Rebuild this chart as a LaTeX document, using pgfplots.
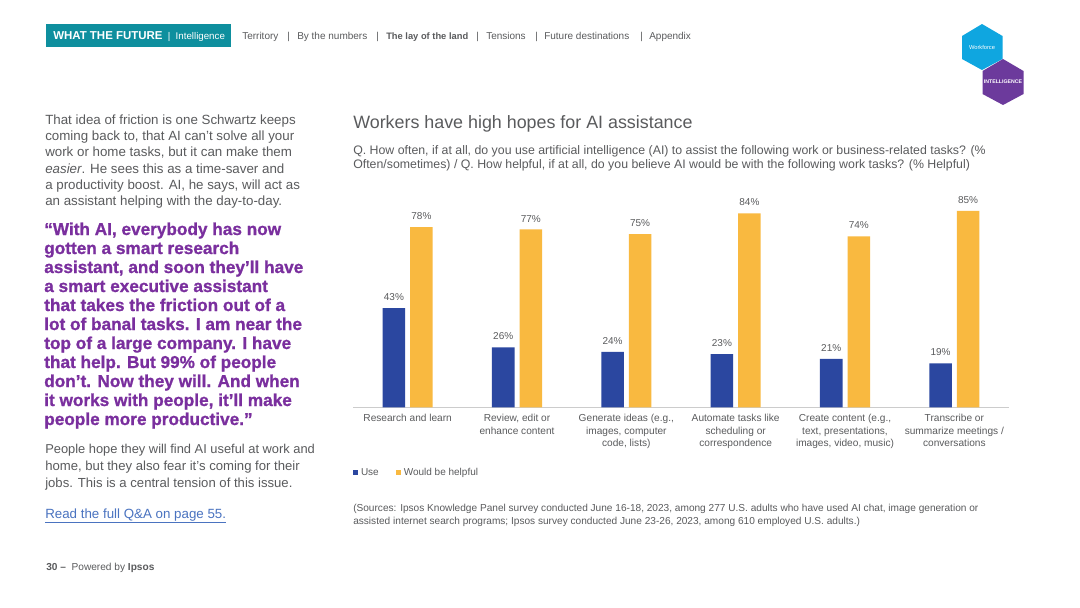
\documentclass[border=0pt]{standalone}
\usepackage{fontspec}
\setmainfont{Liberation Sans}
\usepackage{pgfplots}
\usepackage{pgfplotstable}
\pgfplotsset{compat=1.18}

\definecolor{useblue}{HTML}{2B47A0}
\definecolor{helporange}{HTML}{F9B940}
\definecolor{teal}{HTML}{0E8F9E}
\definecolor{hexblue}{HTML}{0FA6E0}
\definecolor{hexpurple}{HTML}{6C3A9C}
\definecolor{quote}{HTML}{7A2F9E}
\definecolor{txt}{HTML}{5A5B5D}
\definecolor{linkblue}{HTML}{4A73C0}

\pgfplotstableread{
pos use helpful
0 43 78
1 26 77
2 24 75
3 23 84
4 21 74
5 19 85
}\hopes

% one line of text at pixel position: size, x, baseline y, text
\newcommand\tl[4]{\node[anchor=base west,inner sep=0pt,text=txt,font=\fontsize{#1}{#1}\selectfont] at (#2,#3) {#4};}
\newcommand\ql[2]{\node[anchor=base west,inner sep=0pt,text=quote,font=\fontsize{12.9}{13}\selectfont\bfseries\addfontfeature{FakeBold=1}] at (44,#1) {#2};}

\begin{document}
\begin{tikzpicture}
\begin{scope}[x=0.75pt,y=-0.75pt]
\path[use as bounding box,fill=white] (0,0) rectangle (1080,607);

% header
\fill[teal] (46,24) rectangle (231,47);
\node[anchor=base west,inner sep=0pt,text=white,font=\fontsize{8.6}{9}\selectfont\bfseries] at (53,39) {WHAT THE FUTURE};
\node[anchor=base west,inner sep=0pt,text=white,font=\fontsize{7.3}{8}\selectfont] at (167.5,39.5) {|\ \ Intelligence};
\tl{7.5}{242}{39.5}{Territory}
\tl{7.5}{287}{39.5}{|}
\tl{7.5}{297}{39.5}{By the numbers}
\tl{7.5}{376}{39.5}{|}
\tl{7}{386}{39.5}{\textbf{The lay of the land}}
\tl{7.5}{476}{39.5}{|}
\tl{7.5}{486}{39.5}{Tensions}
\tl{7.5}{535}{39.5}{|}
\tl{7.5}{544}{39.5}{Future destinations}
\tl{7.5}{640}{39.5}{|}
\tl{7.5}{649}{39.5}{Appendix}

% hexagon badge
\fill[hexblue] (982,24) -- (1002.5,36) -- (1002.5,59) -- (982,70) -- (962,59) -- (962,36) -- cycle;
\fill[hexpurple] (1003,59) -- (1023.5,71) -- (1023.5,94) -- (1003,105) -- (982.5,94) -- (982.5,71) -- cycle;
\node[text=white,inner sep=0pt,font=\fontsize{4.3}{5}\selectfont] at (982,47.5) {Workforce};
\node[text=white,inner sep=0pt,font=\fontsize{3.9}{5}\selectfont\bfseries] at (1003,82) {INTELLIGENCE};

% left column
\tl{10}{45}{124}{That idea of friction is one Schwartz keeps}
\tl{10}{45}{140}{coming back to, that AI can’t solve all your}
\tl{10}{45}{156}{work or home tasks, but it can make them}
\tl{10}{45}{173}{\textit{easier}. He sees this as a time-saver and}
\tl{10}{45}{189}{a productivity boost. AI, he says, will act as}
\tl{10}{45}{205}{an assistant helping with the day-to-day.}
\ql{235}{“With AI, everybody has now}
\ql{254}{gotten a smart research}
\ql{273}{assistant, and soon they’ll have}
\ql{292}{a smart executive assistant}
\ql{311}{that takes the friction out of a}
\ql{330}{lot of banal tasks. I am near the}
\ql{349}{top of a large company. I have}
\ql{368}{that help. But 99\% of people}
\ql{387}{don’t. Now they will. And when}
\ql{406}{it works with people, it’ll make}
\ql{425}{people more productive.”}
\tl{9.65}{45}{453}{People hope they will find AI useful at work and}
\tl{9.85}{45}{470}{home, but they also fear it’s coming for their}
\tl{9.85}{45}{487}{jobs. This is a central tension of this issue.}
\node[anchor=base west,inner sep=0pt,text=linkblue,font=\fontsize{10}{11}\selectfont] at (45,518) {\underline{Read the full Q\&A on page 55.}};
\node[anchor=base west,inner sep=0pt,text=txt,font=\fontsize{7.6}{8}\selectfont] at (46,570) {\textbf{30 –}\ \ Powered by \textbf{Ipsos}};

% right column text
\tl{13.4}{353}{128}{Workers have high hopes for AI assistance}
\tl{9.25}{353}{154}{Q. How often, if at all, do you use artificial intelligence (AI) to assist the following work or business-related tasks? (\%}
\tl{9.25}{353}{168}{Often/sometimes) / Q. How helpful, if at all, do you believe AI would be with the following work tasks? (\% Helpful)}
\tl{7.58}{353}{511}{(Sources: Ipsos Knowledge Panel survey conducted June 16-18, 2023, among 277 U.S. adults who have used AI chat, image generation or}
\tl{7.58}{353}{524}{assisted internet search programs; Ipsos survey conducted June 23-26, 2023, among 610 employed U.S. adults.)}
\end{scope}

\begin{axis}[
    at={(264.75pt,-305.5pt)},anchor=south west,
    scale only axis,
    width=492pt,height=173.25pt,
    xmin=-0.5,xmax=5.5,ymin=0,ymax=100,
    ybar=3.75pt,
    bar width=16.9pt,
    /pgf/number format/assume math mode=true,
    axis x line=bottom,
    axis y line=none,
    axis line style={draw=black!20,line width=0.6pt,-},
    xtick=data,
    xtick style={draw=none},
    xticklabels={Research and learn,
        {Review, edit or\\enhance content},
        {Generate ideas (e.g.,\\images, computer\\code, lists)},
        {Automate tasks like\\scheduling or\\correspondence},
        {Create content (e.g.,\\text, presentations,\\images, video, music)},
        {Transcribe or\\summarize meetings /\\conversations}},
    xticklabel style={align=center,text=txt,font=\fontsize{7.6}{9.2}\selectfont,yshift=0.3pt},
    nodes near coords={\pgfmathprintnumber{\pgfplotspointmeta}\%},
    nodes near coords style={text=txt,font=\fontsize{7.5}{8}\selectfont,yshift=2pt},
    legend style={at={(axis description cs:0,-0.282)},anchor=west,draw=none,fill=none,
        inner sep=0pt,outer sep=0pt,font=\fontsize{7.5}{8}\selectfont,text=txt,
        nodes={text height=5.5pt,text depth=1.6pt},
        /tikz/every even column/.append style={column sep=10.75pt}},
    legend columns=2,
    legend cell align=left,
    legend image code/.code={\fill[#1] (0pt,-2pt) rectangle (4pt,2pt);},
]
\addplot[draw=none,fill=useblue] table[x=pos,y=use] {\hopes};
\addplot[draw=none,fill=helporange] table[x=pos,y=helpful] {\hopes};
\legend{Use,Would be helpful}
\end{axis}
\end{tikzpicture}
\end{document}
